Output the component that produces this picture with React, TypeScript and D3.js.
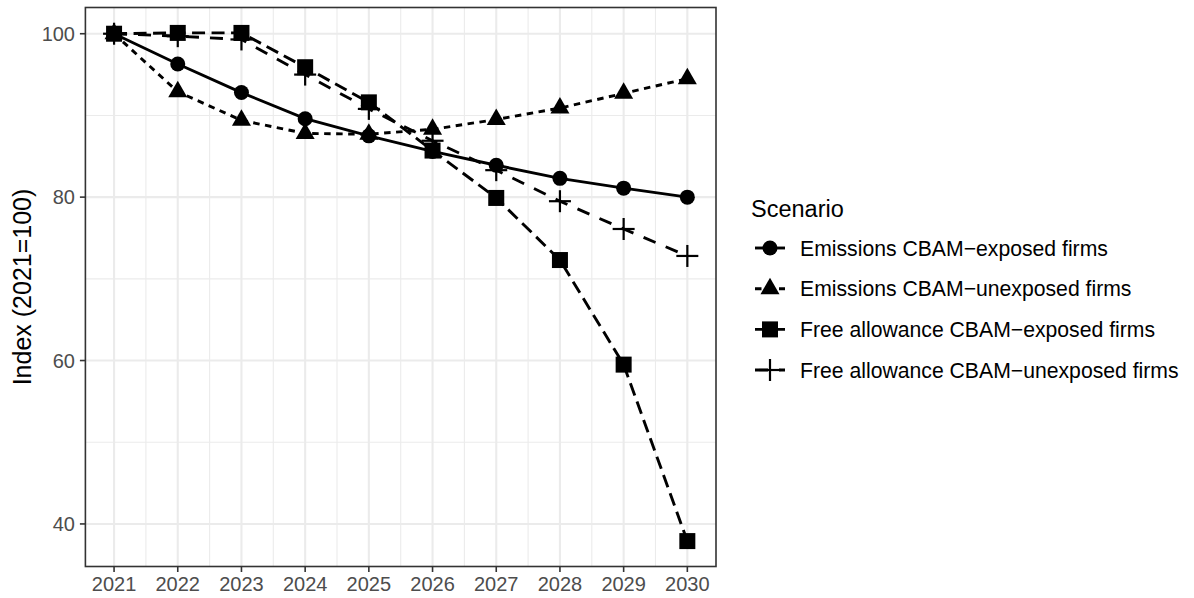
import React from "react";
import * as d3 from "d3";

const years = [2021, 2022, 2023, 2024, 2025, 2026, 2027, 2028, 2029, 2030];
const seriesNames = [
  "Emissions CBAM\u2212exposed firms",
  "Emissions CBAM\u2212unexposed firms",
  "Free allowance CBAM\u2212exposed firms",
  "Free allowance CBAM\u2212unexposed firms",
];
const emissionsExposed = [100, 96.3, 92.8, 89.6, 87.5, 85.6, 83.9, 82.3, 81.1, 80.0];
const emissionsUnexposed = [100, 92.9, 89.4, 87.8, 87.7, 88.3, 89.5, 90.9, 92.7, 94.5];
const allowanceExposed = [100, 100.1, 100.1, 95.9, 91.6, 85.7, 79.9, 72.3, 59.5, 37.9];
const allowanceUnexposed = [100, 99.7, 99.3, 95.0, 90.8, 86.9, 83.3, 79.5, 76.1, 72.8];
const yTicks = [40, 60, 80, 100];
const yMinor = [50, 70, 90];
const legendTitle = "Scenario";
const yTitle = "Index (2021=100)";

const seriesValues = [emissionsExposed, emissionsUnexposed, allowanceExposed, allowanceUnexposed];
const shapes = ["circle", "triangle", "square", "plus"];
const dashes = [null, "6.5,5.5", "13,6.5", "13,11"];

const W = 1194;
const H = 598;
const panel = { left: 85.4, right: 716, top: 7.5, bottom: 566.5 };
const font = "'Liberation Sans', Arial, Helvetica, sans-serif";

function Marker({ shape, x, y }: { shape: string; x: number; y: number }) {
  if (shape === "circle") return <circle cx={x} cy={y} r={7.5} fill="#000" />;
  if (shape === "square") return <rect x={x - 8} y={y - 8} width={16} height={16} fill="#000" />;
  if (shape === "triangle") {
    const r = 11;
    const hx = r * Math.sqrt(3) / 2;
    return <polygon points={`${x},${y - r} ${x + hx},${y + r / 2} ${x - hx},${y + r / 2}`} fill="#000" />;
  }
  return (
    <g stroke="#000" strokeWidth={2.2}>
      <line x1={x - 11} x2={x + 11} y1={y} y2={y} />
      <line x1={x} x2={x} y1={y - 11} y2={y + 11} />
    </g>
  );
}

export default function App() {
  const allVals = seriesValues.flat();
  const yMin = d3.min(allVals) as number;
  const yMax = d3.max(allVals) as number;
  const yPad = (yMax - yMin) * 0.05;
  const y = d3.scaleLinear().domain([yMin - yPad, yMax + yPad]).range([panel.bottom, panel.top]);
  const xPad = (years[years.length - 1] - years[0]) * 0.05;
  const x = d3.scaleLinear().domain([years[0] - xPad, years[years.length - 1] + xPad]).range([panel.left, panel.right]);
  const xMinor = years.slice(0, -1).map((yr) => yr + 0.5);

  const line = d3.line<number>().x((_, i) => x(years[i])).y((v) => y(v));

  const keyX = 755;
  const keyW = 30;
  const legendRows = [248, 288.7, 329.4, 370];

  return (
    <svg width={W} height={H} style={{ position: "absolute", left: 0, top: 0, background: "#fff" }} fontFamily={font}>
      <rect x={0} y={0} width={W} height={H} fill="#fff" />
      <rect x={panel.left} y={panel.top} width={panel.right - panel.left} height={panel.bottom - panel.top} fill="#fff" />
      {yMinor.map((v) => (
        <line key={"ym" + v} x1={panel.left} x2={panel.right} y1={y(v)} y2={y(v)} stroke="#EBEBEB" strokeWidth={1.1} />
      ))}
      {xMinor.map((v) => (
        <line key={"xm" + v} y1={panel.top} y2={panel.bottom} x1={x(v)} x2={x(v)} stroke="#EBEBEB" strokeWidth={1.1} />
      ))}
      {yTicks.map((v) => (
        <line key={"yg" + v} x1={panel.left} x2={panel.right} y1={y(v)} y2={y(v)} stroke="#EBEBEB" strokeWidth={2.1} />
      ))}
      {years.map((v) => (
        <line key={"xg" + v} y1={panel.top} y2={panel.bottom} x1={x(v)} x2={x(v)} stroke="#EBEBEB" strokeWidth={2.1} />
      ))}
      {seriesValues.map((vals, i) => (
        <path
          key={"l" + i}
          d={line(vals) || ""}
          fill="none"
          stroke="#000"
          strokeWidth={2.9}
          strokeDasharray={dashes[i] || undefined}
        />
      ))}
      {seriesValues.map((vals, i) => (
        <g key={"p" + i}>
          {vals.map((v, j) => (
            <Marker key={j} shape={shapes[i]} x={x(years[j])} y={y(v)} />
          ))}
        </g>
      ))}
      <rect
        x={panel.left}
        y={panel.top}
        width={panel.right - panel.left}
        height={panel.bottom - panel.top}
        fill="none"
        stroke="#333333"
        strokeWidth={1.6}
      />
      {yTicks.map((v) => (
        <g key={"yt" + v}>
          <line x1={panel.left - 5.5} x2={panel.left} y1={y(v)} y2={y(v)} stroke="#333333" strokeWidth={1.6} />
          <text x={75} y={y(v)} dy="0.36em" textAnchor="end" fontSize={20} fill="#4D4D4D">
            {v}
          </text>
        </g>
      ))}
      {years.map((v) => (
        <g key={"xt" + v}>
          <line x1={x(v)} x2={x(v)} y1={panel.bottom} y2={panel.bottom + 5.5} stroke="#333333" strokeWidth={1.6} />
          <text x={x(v)} y={591} textAnchor="middle" fontSize={20} fill="#4D4D4D">
            {v}
          </text>
        </g>
      ))}
      <text
        transform={`translate(31,${(panel.top + panel.bottom) / 2}) rotate(-90)`}
        textAnchor="middle"
        fontSize={25}
        fill="#000"
      >
        {yTitle}
      </text>
      <text x={751} y={209} dy="0.36em" fontSize={23.5} fill="#000">
        {legendTitle}
      </text>
      {seriesNames.map((name, i) => (
        <g key={"lg" + i}>
          <line
            x1={keyX}
            x2={keyX + keyW}
            y1={legendRows[i]}
            y2={legendRows[i]}
            stroke="#000"
            strokeWidth={2.9}
            strokeDasharray={dashes[i] || undefined}
          />
          <Marker shape={shapes[i]} x={keyX + keyW / 2} y={legendRows[i]} />
          <text x={800} y={legendRows[i]} dy="0.36em" fontSize={21.2} fill="#000">
            {name}
          </text>
        </g>
      ))}
    </svg>
  );
}
